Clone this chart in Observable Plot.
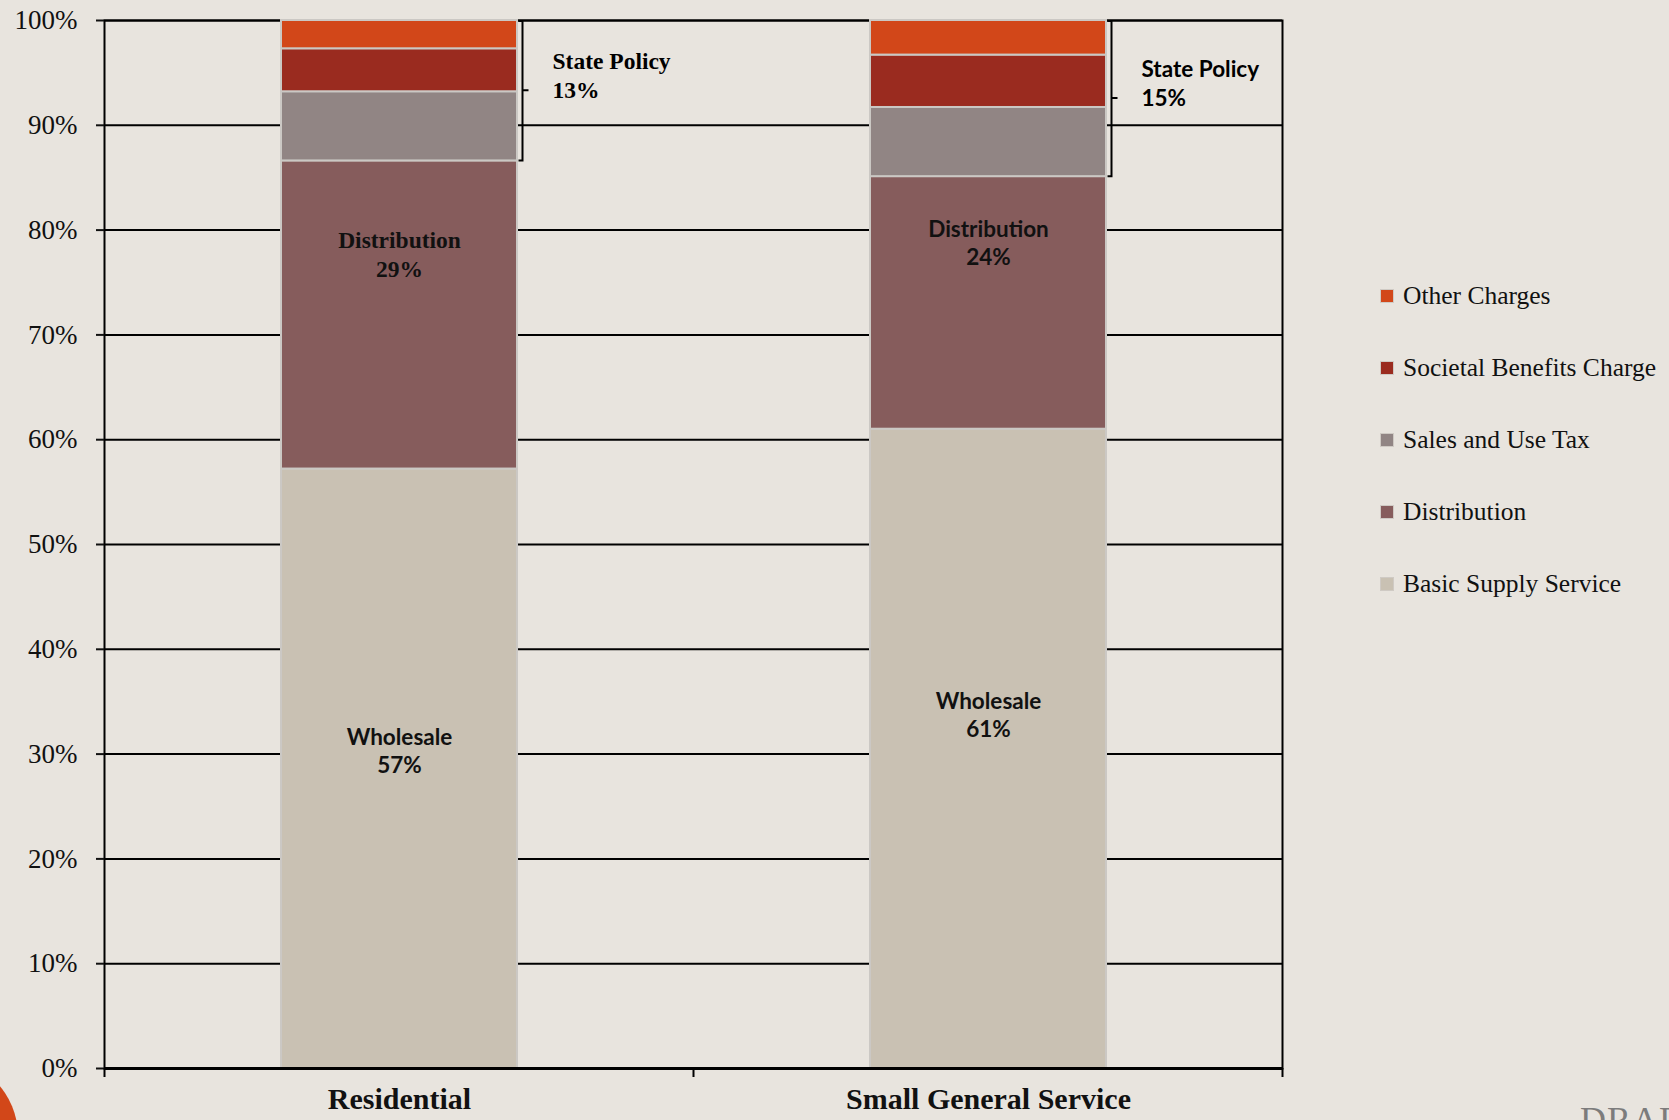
<!DOCTYPE html>
<html>
<head>
<meta charset="utf-8">
<script src="https://cdn.jsdelivr.net/npm/d3@7"></script>
<script src="https://cdn.jsdelivr.net/npm/@observablehq/plot@0.6"></script>
<style>
  html, body { margin: 0; padding: 0; background: #E8E4DE; overflow: hidden; }
  #wrap { position: relative; width: 1669px; height: 1120px; overflow: hidden; }
  #legend { position: absolute; left: 1380px; top: 260px; font-family: "Liberation Serif", "DejaVu Serif", serif; font-size: 25.5px; color: #111; }
  .li { display: flex; align-items: center; height: 72px; }
  .sw { width: 12px; height: 12px; border: 1.5px solid #cfcac4; margin-right: 9px; }
  #circle { position: absolute; left: -138px; top: 1058px; width: 156px; height: 156px; border-radius: 50%; background: #D24719; }
  #draft { position: absolute; left: 1580px; top: 1099px; font-family: "Liberation Serif", serif; font-size: 36px; color: #7c7c7c; letter-spacing: 1px; }
</style>
</head>
<body>
<div id="wrap">
  <div id="chart"></div>
  <div id="legend"></div>
  <div id="circle"></div>
  <div id="draft">DRAFT</div>
</div>
<script>
// ---- data ----
const categories = ["Residential", "Small General Service"];
const components = ["Basic Supply Service", "Distribution", "Sales and Use Tax", "Societal Benefits Charge", "Other Charges"];
const residential = [57.2, 29.4, 6.6, 4.1, 2.7];
const smallGeneral = [61.0, 24.1, 6.6, 5.0, 3.3];
const colors = ["#C9C1B3", "#865C5C", "#918584", "#9A2B1F", "#D24719"];
const wholesaleLabels = ["Wholesale\n57%", "Wholesale\n61%"];
const distributionLabels = ["Distribution\n29%", "Distribution\n24%"];
const statePolicyLabels = ["13%", "15%"];
const yTicks = [0, 10, 20, 30, 40, 50, 60, 70, 80, 90, 100];

const seriesByCat = [residential, smallGeneral];
const rows = [];
categories.forEach((c, i) => components.forEach((k, j) => rows.push({cat: c, comp: k, value: seriesByCat[i][j]})));

// label rows at segment mid-points
const labelRows = categories.map((c, i) => {
  const v = seriesByCat[i];
  return {
    cat: c,
    wholesaleMid: v[0] / 2,
    distMid: v[0] + v[1] / 2,
    wholesale: wholesaleLabels[i],
    dist: distributionLabels[i]
  };
});

const serif = "'Liberation Serif', 'DejaVu Serif', serif";
const sans = "Lato, 'Liberation Sans', sans-serif";

function decorations(index, scales) {
  const x = scales.x, y = scales.y;
  const bw = x.bandwidth(), step = x.step();
  const gap = (step - bw) / 2;
  const g = d3.create("svg:g").attr("text-anchor", "start");
  // category-boundary ticks below baseline
  const edges = categories.map(c => x(c) - gap).concat([x(categories[categories.length - 1]) + bw + gap]);
  edges.forEach(e => {
    g.append("line").attr("x1", e).attr("x2", e).attr("y1", y(0)).attr("y2", y(0) + 9)
      .attr("stroke", "#000").attr("stroke-width", 2);
  });
  // State Policy brackets
  categories.forEach((c, i) => {
    const v = seriesByCat[i];
    const lower = v[0] + v[1];
    const bx = x(c) + bw + 5.5;
    const top = y(100), bot = y(lower), mid = (top + bot) / 2;
    g.append("path")
      .attr("d", `M${bx - 4},${top + 1}H${bx}V${bot}H${bx - 4}M${bx},${mid}H${bx + 6}`)
      .attr("fill", "none").attr("stroke", "#000").attr("stroke-width", 2);
    const tx = bx + 30;
    const t = g.append("text")
      .attr("x", tx)
      .attr("y", mid)
      .attr("text-anchor", "start")
      .attr("font-family", i === 0 ? serif : sans)
      .attr("font-weight", "bold")
      .attr("font-size", i === 0 ? 23.5 : 22.5)
      .attr("fill", "#000");
    t.append("tspan").attr("x", tx).attr("dy", -21).text("State Policy");
    t.append("tspan").attr("x", tx).attr("dy", 28.5).text(statePolicyLabels[i]);
  });
  return g.node();
}

const chart = Plot.plot({
  width: 1669,
  height: 1120,
  marginLeft: 104,
  marginRight: 387,
  marginTop: 20,
  marginBottom: 52,
  style: {background: "#E8E4DE", fontFamily: serif, fontSize: "27px", color: "#111"},
  x: {domain: categories, paddingInner: 0.6, paddingOuter: 0.3, label: null},
  y: {domain: [0, 100], label: null},
  color: {domain: components, range: colors},
  marks: [
    Plot.ruleY(yTicks, {stroke: "#000", strokeWidth: 2}),
    Plot.frame({stroke: "#000", strokeWidth: 2}),
    Plot.barY(rows, {x: "cat", y: "value", fill: "comp", stroke: "#cbc8c4", strokeWidth: 2}),
    Plot.ruleY([0], {stroke: "#000", strokeWidth: 3}),
    Plot.axisY({ticks: yTicks, tickFormat: d => d + "%", tickSize: 8, tickPadding: 19, strokeWidth: 2, fontSize: 27, fontFamily: serif, label: null}),
    Plot.axisX({tickSize: 0, tickPadding: 19, fontSize: 30, fontFamily: serif, fontWeight: "bold", label: null}),
    // Residential labels
    Plot.text(labelRows.filter(d => d.cat === categories[0]), {x: "cat", y: "distMid", text: "dist", dy: -62, fontFamily: serif, fontWeight: "bold", fontSize: 23.5, lineHeight: 1.24, fill: "#111"}),
    Plot.text(labelRows.filter(d => d.cat === categories[0]), {x: "cat", y: "wholesaleMid", text: "wholesale", dy: -19, fontFamily: sans, fontWeight: "bold", fontSize: 22.5, lineHeight: 1.27, fill: "#111"}),
    // Small General Service labels
    Plot.text(labelRows.filter(d => d.cat === categories[1]), {x: "cat", y: "distMid", text: "dist", dy: -61, fontFamily: sans, fontWeight: "bold", fontSize: 22.5, lineHeight: 1.27, fill: "#111"}),
    Plot.text(labelRows.filter(d => d.cat === categories[1]), {x: "cat", y: "wholesaleMid", text: "wholesale", dy: -35, fontFamily: sans, fontWeight: "bold", fontSize: 22.5, lineHeight: 1.27, fill: "#111"}),
    decorations
  ]
});
document.getElementById("chart").appendChild(chart);

// legend (top = Other Charges)
const legend = d3.select("#legend");
components.slice().reverse().forEach(k => {
  const row = legend.append("div").attr("class", "li");
  row.append("div").attr("class", "sw").style("background", colors[components.indexOf(k)]);
  row.append("span").text(k);
});
</script>
</body>
</html>
